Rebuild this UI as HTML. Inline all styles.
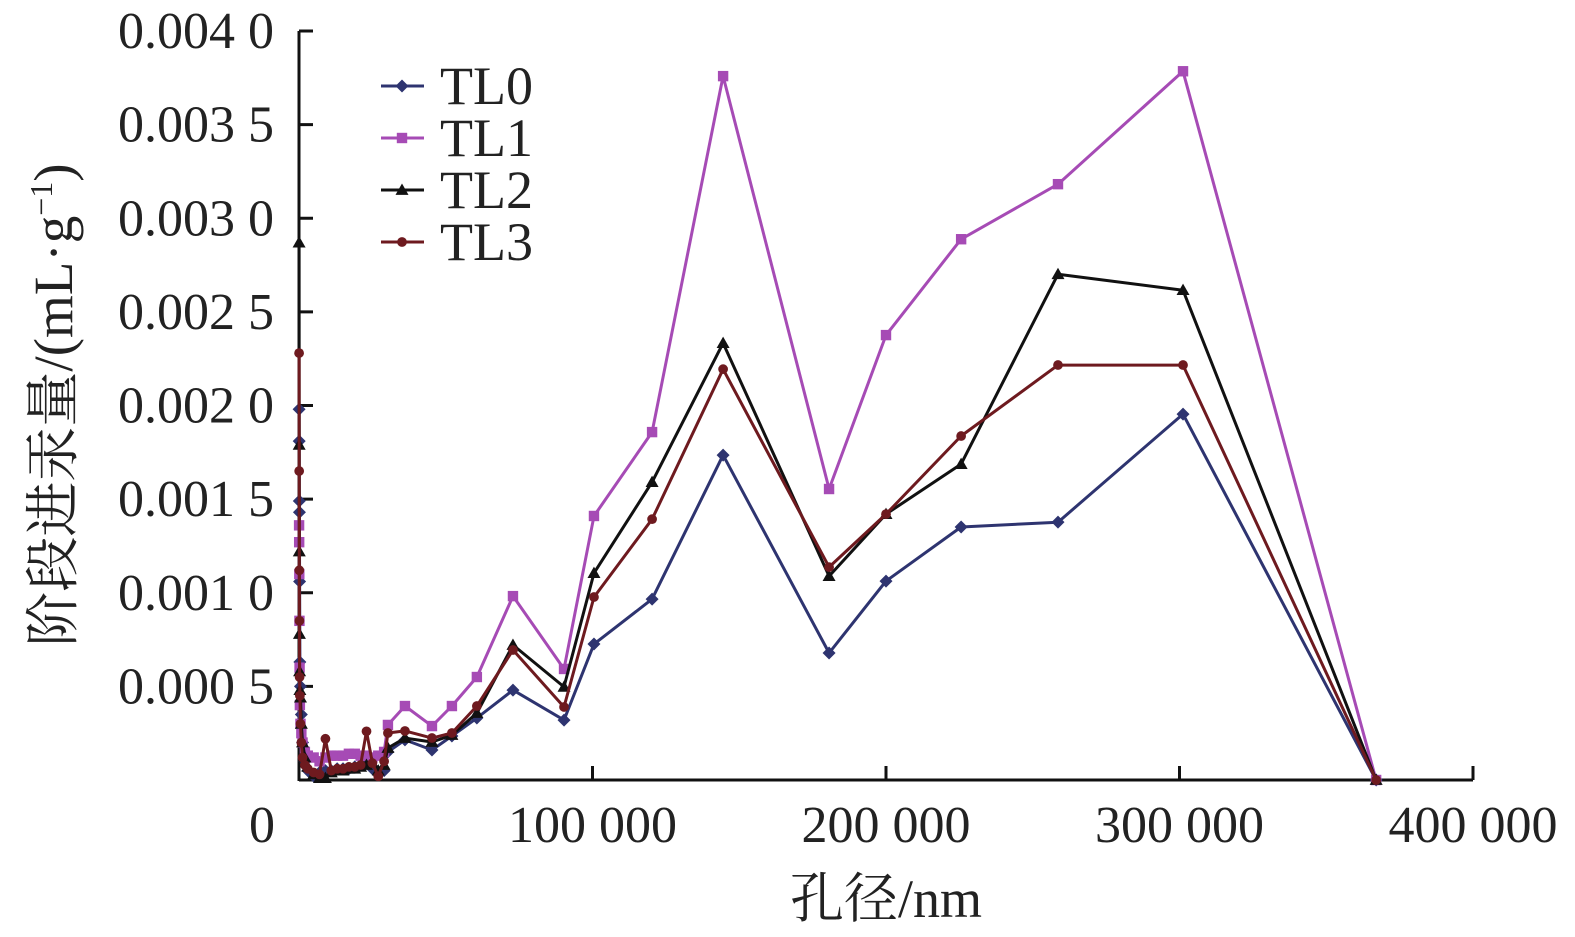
<!DOCTYPE html>
<html><head><meta charset="utf-8"><style>
html,body{margin:0;padding:0;background:#fff;}
svg{display:block;font-family:"Liberation Serif","Noto Serif CJK SC",serif;}
</style></head><body>
<svg id="chart" width="1575" height="937" viewBox="0 0 1575 937" xmlns="http://www.w3.org/2000/svg">
<g id="axes"></g>
<g id="series"></g>
<g id="legend"></g>
<text transform="translate(72,405) rotate(-90)" text-anchor="middle" font-size="55" fill="#222">阶段进汞量/(mL·g<tspan font-size="32" dy="-20">−1</tspan><tspan dy="20">)</tspan></text>
<text x="886" y="917" text-anchor="middle" font-size="54" fill="#222">孔径/nm</text>
</svg>
<script>
const denseX = [30,60,100,150,200,300,500,800,1200,2000,3000,5000,7000,9000,11000,13000,15000,17000,19000,21000,23000,25000,27000,29000];
const mainX = [30300,36100,45300,52100,60600,72900,90300,100500,120300,144500,180600,200000,225600,258600,301200,367000];
const tl0Dense = [0.00198,0.00181,0.00149,0.00143,0.00106,0.00063,0.00050,0.00035,0.00020,0.00010,0.00005,0.00002,0.00004,0.00005,0.00005,0.00006,0.00006,0.00006,0.00007,0.00008,0.00009,0.00006,0.00003,0.00005];
const tl0Main = [0.00015,0.000214,0.00016,0.000235,0.000331,0.00048,0.00032,0.000726,0.000966,0.001735,0.000678,0.001062,0.001351,0.001377,0.001954,0];
const tl1Dense = [0.00136,0.00127,0.00110,0.00085,0.00060,0.00040,0.00030,0.00025,0.00020,0.00015,0.00013,0.00012,0.00010,0.00012,0.00013,0.00013,0.00013,0.00014,0.00014,0.00013,0.00013,0.00012,0.00013,0.00015];
const tl1Main = [0.000294,0.000395,0.000288,0.000395,0.00055,0.000982,0.000593,0.00141,0.001858,0.003759,0.001554,0.002376,0.002888,0.003182,0.003785,0];
const tl2Dense = [0.00287,0.00179,0.00122,0.00078,0.00058,0.00048,0.00044,0.00030,0.00020,0.00012,0.00007,0.00003,0.00001,0.00001,0.00004,0.00005,0.00005,0.00006,0.00006,0.00007,0.00008,0.00009,0.00005,0.00008];
const tl2Main = [0.000171,0.000224,0.000203,0.00024,0.000358,0.000721,0.000497,0.001105,0.001591,0.002333,0.001089,0.00142,0.001687,0.002701,0.002616,0];
const tl3Dense = [0.00228,0.00165,0.00112,0.00085,0.00055,0.00045,0.00030,0.00020,0.00012,0.00008,0.00006,0.00004,0.00003,0.00022,0.00005,0.00006,0.00006,0.00007,0.00007,0.00008,0.00026,0.00009,0.00002,0.00010];
const tl3Main = [0.000251,0.000262,0.000224,0.000251,0.000395,0.000694,0.00039,0.000977,0.001393,0.002194,0.001137,0.00142,0.001837,0.002216,0.002216,0];
const xTicks = [0,100000,200000,300000,400000];
const xTickLabels = ["0","100 000","200 000","300 000","400 000"];
const yTicks = [0.0005,0.001,0.0015,0.002,0.0025,0.003,0.0035,0.004];
const yTickLabels = ["0.000 5","0.001 0","0.001 5","0.002 0","0.002 5","0.003 0","0.003 5","0.004 0"];
const seriesNames = ["TL0","TL1","TL2","TL3"];

const NS="http://www.w3.org/2000/svg";
const X0=299, X1=1473, Y0=780, Y1=31;
function xs(v){return X0+(v/400000)*(X1-X0);}
function ys(v){return Y0-(v/0.004)*(Y0-Y1);}
function mk(tag,attrs,parent){const e=document.createElementNS(NS,tag);for(const k in attrs)e.setAttribute(k,attrs[k]);parent.appendChild(e);return e;}
const axes=document.getElementById('axes');
let el=mk('line',{x1:X0,y1:Y0,x2:X1,y2:Y0,stroke:'#111','stroke-width':3},axes);


el=mk('line',{x1:X0,y1:Y0+1,x2:X0,y2:Y1,stroke:'#111','stroke-width':3},axes);


xTicks.forEach((t,i)=>{
  const x=xs(t);
  if(i>0){const tk=mk('line',{x1:x,y1:Y0,x2:x,y2:Y0-14,stroke:'#111','stroke-width':3},axes);
  
  }
  const tx=mk('text',{x:i===0?262:x,y:842,'text-anchor':'middle','font-size':52,fill:'#222'},axes);
  tx.textContent=xTickLabels[i];
  
  
});
yTicks.forEach((t,i)=>{
  const y=ys(t);
  const tk=mk('line',{x1:X0,y1:y,x2:X0+14,y2:y,stroke:'#111','stroke-width':3},axes);
  
  
  const tx=mk('text',{x:274,y:y+17,'text-anchor':'end','font-size':52,fill:'#222'},axes);
  tx.textContent=yTickLabels[i];
  
  
});
const colors=["#2e3470","#a64bb5","#111111","#6e1a1f"];
const shapes=["diamond","square","triangle","circle"];
const dataSets=[[tl0Dense,tl0Main],[tl1Dense,tl1Main],[tl2Dense,tl2Main],[tl3Dense,tl3Main]];
function marker(g,shape,x,y,c,s){
  let m;
  if(shape==="diamond")m=mk('polygon',{points:`${x},${y-s} ${x+s},${y} ${x},${y+s} ${x-s},${y}`,fill:c},g);
  else if(shape==="square")m=mk('rect',{x:x-s*0.8,y:y-s*0.8,width:s*1.6,height:s*1.6,fill:c},g);
  else if(shape==="triangle")m=mk('polygon',{points:`${x},${y-s} ${x+s},${y+s*0.75} ${x-s},${y+s*0.75}`,fill:c},g);
  else m=mk('circle',{cx:x,cy:y,r:s*0.75,fill:c},g);
  return m;
}
const sg=document.getElementById('series');
dataSets.forEach((d,si)=>{
  const g=mk('g',{},sg);
  
  
  const xsArr=denseX.concat(mainX), ysArr=d[0].concat(d[1]);
  const pts=xsArr.map((x,i)=>xs(x).toFixed(1)+','+ys(ysArr[i]).toFixed(1)).join(' ');
  const pl=mk('polyline',{points:pts,fill:'none',stroke:colors[si],'stroke-width':3,'stroke-linejoin':'round'},g);
  
  
  xsArr.forEach((x,i)=>{
    const m=marker(g,shapes[si],xs(x),ys(ysArr[i]),colors[si],6.5);
    
    
  });
});
const lg=document.getElementById('legend');
seriesNames.forEach((n,i)=>{
  const y=86+i*52;
  const g=mk('g',{},lg);
  
  
  mk('line',{x1:381,y1:y,x2:424,y2:y,stroke:colors[i],'stroke-width':3},g);
  marker(g,shapes[i],402,y,colors[i],6.5);
  const t=mk('text',{x:440,y:y+18,'font-size':54,fill:'#222'},g);
  t.textContent=n;
});
</script>
</body></html>
